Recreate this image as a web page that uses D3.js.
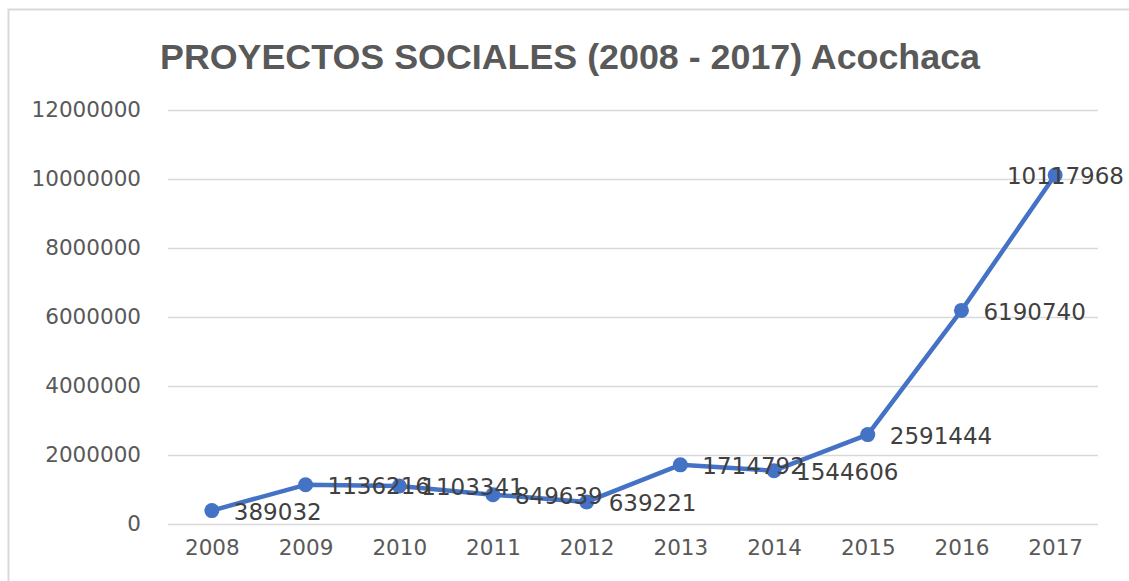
<!DOCTYPE html>
<html>
<head>
<meta charset="utf-8">
<script src="https://cdn.jsdelivr.net/npm/d3@7"></script>
<style>
  body { margin: 0; background: #fff; }
  svg { display: block; }
</style>
</head>
<body>
<div id="chart"></div>
<script>
// data
let years = ['2008', '2009', '2010', '2011', '2012', '2013', '2014', '2015', '2016', '2017']
let amounts = [389032, 1136216, 1103341, 849639, 639221, 1714792, 1544606, 2591444, 6190740, 10117968]
let yTicks = [0, 2000000, 4000000, 6000000, 8000000, 10000000, 12000000]
let title = 'PROYECTOS SOCIALES (2008 - 2017) Acochaca'

let width = 1129
let height = 581
let margin = { top: 110, left: 165, right: 27, bottom: 57 }

let svg = d3.select('#chart')
  .append('svg')
  .attr('width', width)
  .attr('height', height)

// chart frame
svg.append('rect')
  .attr('x', 8.5)
  .attr('y', 9.5)
  .attr('width', 1140)
  .attr('height', 600)
  .attr('fill', 'none')
  .attr('stroke', '#d9d9d9')
  .attr('stroke-width', 2)

svg.append('text')
  .attr('x', 570)
  .attr('y', 69)
  .attr('text-anchor', 'middle')
  .attr('font-family', 'Liberation Sans Narrow, Liberation Sans, sans-serif')
  .attr('font-weight', 'bold')
  .attr('font-size', 35)
  .attr('fill', '#595959')
  .attr('textLength', 820)
  .attr('lengthAdjust', 'spacingAndGlyphs')
  .text(title)

let xPositionScale = d3.scalePoint()
  .domain(years)
  .range([margin.left, width - margin.right])
  .padding(0.5)

let yPositionScale = d3.scaleLinear()
  .domain([0, 12000000])
  .range([height - margin.bottom, margin.top])

// gridlines
svg.append('g')
  .selectAll('line')
  .data(yTicks)
  .enter()
  .append('line')
  .attr('x1', 168)
  .attr('x2', 1098)
  .attr('y1', d => Math.round(yPositionScale(d)) + 0.5)
  .attr('y2', d => Math.round(yPositionScale(d)) + 0.5)
  .attr('stroke', '#d9d9d9')
  .attr('stroke-width', 1.5)

// y axis labels
let yAxis = d3.axisLeft(yPositionScale)
  .tickValues(yTicks)
  .tickFormat(d3.format('d'))
  .tickSize(0)
  .tickPadding(0)

let yG = svg.append('g')
  .attr('class', 'axis y-axis')
  .attr('transform', 'translate(141,0)')
  .call(yAxis)
yG.select('.domain').remove()
yG.selectAll('text')
  .attr('font-family', 'DejaVu Sans, sans-serif')
  .attr('font-size', 21.5)
  .attr('fill', '#595959')

// x axis labels
let xAxis = d3.axisBottom(xPositionScale).tickSize(0).tickPadding(0)
let xG = svg.append('g')
  .attr('class', 'axis x-axis')
  .attr('transform', 'translate(0,540)')
  .call(xAxis)
xG.select('.domain').remove()
xG.selectAll('text')
  .attr('font-family', 'DejaVu Sans, sans-serif')
  .attr('font-size', 21.5)
  .attr('fill', '#595959')

let points = years.map((y, i) => ({ year: y, value: amounts[i] }))

let line = d3.line()
  .x(d => xPositionScale(d.year))
  .y(d => yPositionScale(d.value))

svg.append('path')
  .datum(points)
  .attr('d', line)
  .attr('fill', 'none')
  .attr('stroke', '#4472c4')
  .attr('stroke-width', 4.5)
  .attr('stroke-linejoin', 'round')

svg.append('g')
  .selectAll('circle')
  .data(points)
  .enter()
  .append('circle')
  .attr('cx', d => xPositionScale(d.year))
  .attr('cy', d => yPositionScale(d.value))
  .attr('r', 7.5)
  .attr('fill', '#4472c4')

// data labels, right of each point (last one pulled back inside the frame)
svg.append('g')
  .selectAll('text')
  .data(points)
  .enter()
  .append('text')
  .attr('x', (d, i) => i === points.length - 1 ? width - 5 : xPositionScale(d.year) + 22)
  .attr('y', d => yPositionScale(d.value) + 3)
  .attr('dominant-baseline', 'middle')
  .attr('text-anchor', (d, i) => i === points.length - 1 ? 'end' : 'start')
  .attr('font-family', 'DejaVu Sans, sans-serif')
  .attr('font-size', 23)
  .attr('fill', '#404040')
  .text(d => d.value)
</script>
</body>
</html>
